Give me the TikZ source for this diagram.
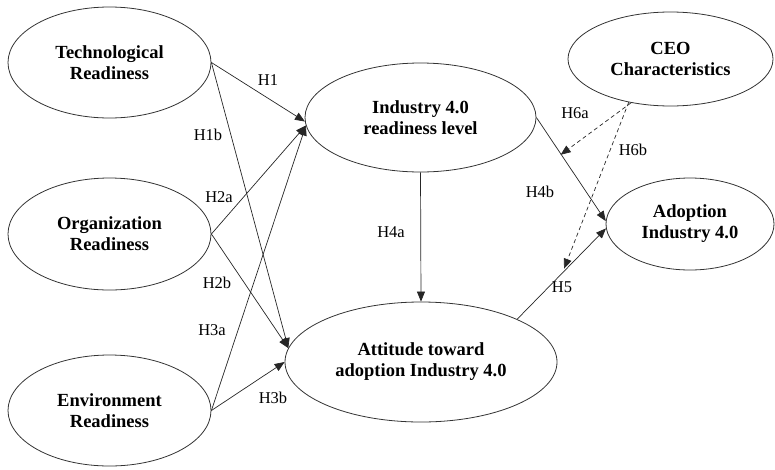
\documentclass[tikz,border=0pt]{standalone}
\usepackage{fontspec}
\setmainfont{Liberation Serif}
\usetikzlibrary{shapes.geometric,arrows.meta,calc}
\begin{document}
\begin{tikzpicture}[x=1pt,y=-1pt,
  construct/.style={ellipse,draw=black!80,line width=0.8pt,inner sep=0pt,align=center,
    font=\fontsize{18.5}{21}\selectfont\bfseries},
  link/.style={draw=black!85,line width=0.7pt,-{Triangle[length=10pt,width=8pt]}},
  dlink/.style={link,dash pattern=on 4pt off 3pt},
  lbl/.style={font=\fontsize{16.5}{18}\selectfont,inner sep=0pt}]
\useasboundingbox (0,0) rectangle (775,469);
\node[construct,minimum width=203pt,minimum height=111pt] (tech) at (109.5,62.5) {Technological\\Readiness};
\node[construct,minimum width=203pt,minimum height=112pt] (org) at (109.5,234) {Organization\\Readiness};
\node[construct,minimum width=203pt,minimum height=111pt] (env) at (109.5,410.5) {Environment\\Readiness};
\node[construct,minimum width=231pt,minimum height=109pt] (irl) at (420.5,117.5) {Industry 4.0\\readiness level};
\node[construct,minimum width=272pt,minimum height=120pt] (att) at (421,362) {Attitude toward\\adoption Industry 4.0};
\node[construct,minimum width=205pt,minimum height=94pt] (ceo) at (670.5,59) {CEO\\Characteristics};
\node[construct,minimum width=168pt,minimum height=92pt] (adop) at (690,224) {Adoption\\Industry 4.0};

\coordinate (h6a) at ($(irl.east)!0.35!(adop.west)$);
\coordinate (h6b) at ($(att.24)!0.53!(adop.west)$);

\draw[link] (tech.east) -- (irl.182);
\draw[link] (tech.east) -- (att.174);
\draw[link] (org.east) -- (irl.184);
\draw[link] (org.east) -- (att.174);
\draw[link] (env.east) -- (irl.184);
\draw[link] (env.east) -- (att.west);
\draw[link] (irl.south) -- (att.north);
\draw[link] (irl.east) -- (adop.178);
\draw[link] (att.24) -- (adop.183);
\draw[dlink] (ceo.228) -- (h6a);
\draw[dlink] (ceo.226) -- (h6b);

\node[lbl] (l1) at (268,80) {H1};
\node[lbl] (l1b) at (208,135) {H1b};
\node[lbl] (l2a) at (219,197) {H2a};
\node[lbl] (l2b) at (217,283) {H2b};
\node[lbl] (l3a) at (212,330) {H3a};
\node[lbl] (l3b) at (273,398) {H3b};
\node[lbl] (l4a) at (391,232) {H4a};
\node[lbl] (l4b) at (540,192) {H4b};
\node[lbl] (l5) at (562,287) {H5};
\node[lbl] (l6a) at (575,113) {H6a};
\node[lbl] (l6b) at (633,150) {H6b};
\end{tikzpicture}
\end{document}
